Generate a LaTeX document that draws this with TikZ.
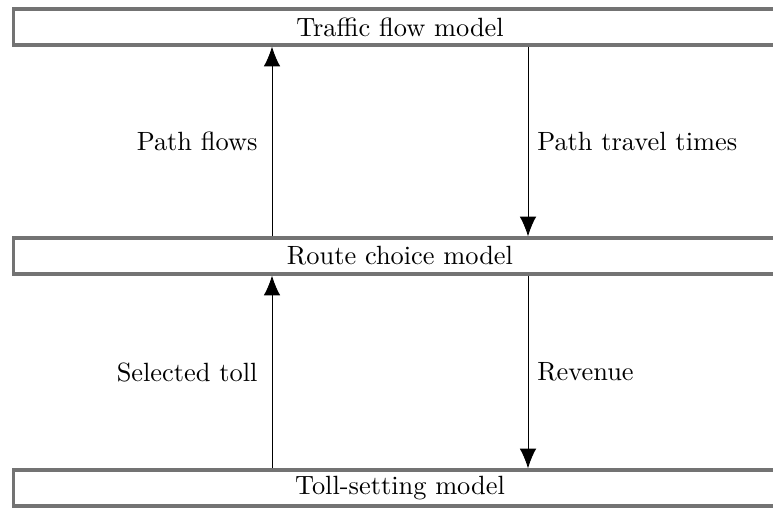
\documentclass[tikz,border=0pt]{standalone}
\usepackage{tikz}
\usetikzlibrary{calc,positioning}
\usetikzlibrary{arrows.meta}
\tikzset{>={Latex[width=6.3pt,length=7.5pt]}}

\begin{document}
\begin{tikzpicture}[x=0.379pt,y=-0.379pt]
          \tikzstyle{mbox} = [draw=black!55, line width=1.2pt, rectangle, minimum width=293pt, minimum height=13.7pt, inner sep=0pt, align=center]
          \tikzstyle{flow} = [->, line width=0.35pt]

          \useasboundingbox (0,0) rectangle (773,508);

          \node[mbox] (traffic) at (400,27) {Traffic flow model};
          \node[mbox] (route) at (400,256) {Route choice model};
          \node[mbox] (toll) at (400,488) {Toll-setting model};

          % upper pair
          \draw[flow] ($(route.north)+(-128,0)$) -- node[left=2pt] {Path flows} ($(traffic.south)+(-128,0)$);
          \draw[flow] ($(traffic.south)+(128,0)$) -- node[right=0pt] {Path travel times} ($(route.north)+(128,0)$);
          % lower pair
          \draw[flow] ($(toll.north)+(-128,0)$) -- node[left=2pt] {Selected toll} ($(route.south)+(-128,0)$);
          \draw[flow] ($(route.south)+(128,0)$) -- node[right=0pt] {Revenue} ($(toll.north)+(128,0)$);
        \end{tikzpicture}
\end{document}
